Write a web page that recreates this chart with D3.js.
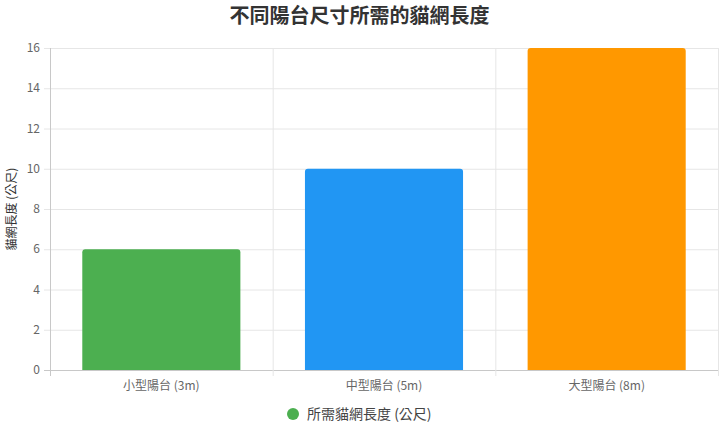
<!DOCTYPE html>
<html>
<head>
<meta charset="utf-8">
<script src="https://cdn.jsdelivr.net/npm/d3@7"></script>
<style>
  body { margin: 0; background: #fff; font-family: "Noto Sans CJK TC", "Noto Sans", sans-serif; }
</style>
</head>
<body>
<div id="chart"></div>
<script>
const categories = ['小型陽台 (3m)', '中型陽台 (5m)', '大型陽台 (8m)'];
const values = [6, 10, 16];
const colors = ['#4CAF50', '#2196F3', '#FF9800'];
const yTicks = [0, 2, 4, 6, 8, 10, 12, 14, 16];

const width = 719;
const height = 433;
const margin = { top: 48, right: 1, bottom: 63, left: 50 };

const svg = d3.select('#chart').append('svg')
  .attr('width', width)
  .attr('height', height);

const x = d3.scaleBand()
  .domain(categories)
  .range([margin.left, width - margin.right])
  .paddingInner(0.29)
  .paddingOuter(0.145);

const y = d3.scaleLinear()
  .domain([0, 16])
  .range([height - margin.bottom, margin.top]);

// horizontal grid
svg.append('g').selectAll('line')
  .data(yTicks)
  .enter().append('line')
  .attr('x1', margin.left - 6)
  .attr('x2', width - margin.right)
  .attr('y1', (d) => y(d) + 0.5)
  .attr('y2', (d) => y(d) + 0.5)
  .attr('stroke', (d) => (d === 0 ? '#c8c8c8' : '#e6e6e6'));

// vertical grid at category boundaries
const step = (width - margin.right - margin.left) / categories.length;
svg.append('g').selectAll('line')
  .data(d3.range(categories.length + 1))
  .enter().append('line')
  .attr('x1', (i) => margin.left + i * step + 0.5)
  .attr('x2', (i) => margin.left + i * step + 0.5)
  .attr('y1', margin.top)
  .attr('y2', height - margin.bottom + 6)
  .attr('stroke', (i) => (i === 0 ? '#c8c8c8' : '#e6e6e6'));

svg.append('g').selectAll('text')
  .data(yTicks)
  .enter().append('text')
  .attr('x', margin.left - 10)
  .attr('y', (d) => y(d))
  .attr('dy', '0.35em')
  .attr('text-anchor', 'end')
  .attr('font-size', 12)
  .attr('fill', '#666')
  .text((d) => d);

svg.append('g').selectAll('text')
  .data(categories)
  .enter().append('text')
  .attr('x', (d) => x(d) + x.bandwidth() / 2)
  .attr('y', height - margin.bottom + 20)
  .attr('text-anchor', 'middle')
  .attr('font-size', 12)
  .attr('fill', '#666')
  .text((d) => d);

// bars with small rounded top corners
const r = 3;
svg.append('g').selectAll('path')
  .data(values)
  .enter().append('path')
  .attr('fill', (d, i) => colors[i])
  .attr('d', (d, i) => {
    const x0 = x(categories[i]);
    const x1 = x0 + x.bandwidth();
    const yt = y(d);
    const yb = y(0);
    return `M${x0},${yb}V${yt + r}Q${x0},${yt} ${x0 + r},${yt}H${x1 - r}Q${x1},${yt} ${x1},${yt + r}V${yb}Z`;
  });

svg.append('text')
  .attr('x', width / 2)
  .attr('y', 23)
  .attr('text-anchor', 'middle')
  .attr('font-size', 20)
  .attr('font-weight', 'bold')
  .attr('fill', '#333')
  .text('不同陽台尺寸所需的貓網長度');

svg.append('text')
  .attr('transform', `translate(16,${(margin.top + height - margin.bottom) / 2}) rotate(-90)`)
  .attr('text-anchor', 'middle')
  .attr('font-size', 12)
  .attr('fill', '#333')
  .text('貓網長度 (公尺)');

svg.append('circle')
  .attr('cx', 293)
  .attr('cy', 414)
  .attr('r', 6)
  .attr('fill', colors[0]);

svg.append('text')
  .attr('x', 307)
  .attr('y', 414)
  .attr('dy', '0.35em')
  .attr('font-size', 14)
  .attr('fill', '#444')
  .text('所需貓網長度 (公尺)');
</script>
</body>
</html>
